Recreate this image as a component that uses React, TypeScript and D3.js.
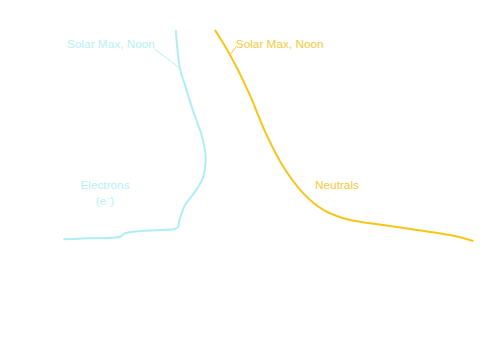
import React from "react";
import * as d3 from "d3";

// log10 density (schematic) vs altitude (km)
const electronLogN = [6.17, 6.36, 6.59, 6.97, 7.32, 7.47, 7.53, 7.42, 7.2, 6.82, 6.59, 6.44, 6.32, 6.29, 6.14, 5.45, 3.86, 3.64, 2.2, 1.06];
const electronAlt = [1000, 836, 764, 650, 557, 500, 443, 371, 328, 279, 250, 214, 178, 157, 147, 143, 129, 114, 107, 103];

const neutralLogN = [7.95, 8.64, 9.47, 10.32, 11.06, 11.97, 12.88, 13.79, 14.55, 15.6, 17.12, 18.64, 19.7];
const neutralAlt = [1000, 893, 736, 546, 414, 300, 229, 193, 178, 164, 143, 121, 96];

const labels = [
  { text: "Solar Max, Noon", logN: 1.23, alt: 923, anchor: "start", color: "#b6eff5", leaderFrom: [5.2, 919], leaderTo: [6.36, 836] },
  { text: "Solar Max, Noon", logN: 8.9, alt: 923, anchor: "start", color: "#f5c93a", leaderFrom: [8.91, 928], leaderTo: [8.64, 893] },
];

const electronLabel = ["Electrons", "(e", ")"];
const neutralLabel = "Neutrals";

const W = 500;
const H = 350;

export default function App() {
  const x = d3.scaleLinear().domain([0, 20]).range([40, 480]);
  const y = d3.scaleLinear().domain([100, 1000]).range([240, 30]);

  const line = d3
    .line<[number, number]>()
    .x((d) => x(d[0]))
    .y((d) => y(d[1]))
    .curve(d3.curveCatmullRom.alpha(0.5));

  const ePts = electronLogN.map((v, i) => [v, electronAlt[i]] as [number, number]);
  const nPts = neutralLogN.map((v, i) => [v, neutralAlt[i]] as [number, number]);

  const font = "Liberation Sans, Arial, Helvetica, sans-serif";
  const fs = 11.8;

  return (
    <svg
      width={W}
      height={H}
      style={{ position: "absolute", left: 0, top: 0, display: "block", background: "#ffffff" }}
    >
      <path d={line(ePts) || ""} fill="none" stroke="#aeeef4" strokeWidth={2} />
      <path d={line(nPts) || ""} fill="none" stroke="#f5c518" strokeWidth={2} />

      {labels.map((l, i) => (
        <g key={i}>
          <line
            x1={x(l.leaderFrom[0])}
            y1={y(l.leaderFrom[1])}
            x2={x(l.leaderTo[0])}
            y2={y(l.leaderTo[1])}
            stroke={l.color}
            strokeWidth={1}
          />
          <text
            x={x(l.logN)}
            y={y(l.alt)}
            fill={l.color}
            fontFamily={font}
            fontSize={fs}
            textAnchor={l.anchor as any}
          >
            {l.text}
          </text>
        </g>
      ))}

      <text x={105} y={189} fill="#b6eff5" fontFamily={font} fontSize={fs} textAnchor="middle">
        {electronLabel[0]}
      </text>
      <text x={105} y={205} fill="#b6eff5" fontFamily={font} fontSize={fs} textAnchor="middle">
        {electronLabel[1]}
        <tspan fontSize={7} dy={-4}>−</tspan>
        <tspan dy={4}>{electronLabel[2]}</tspan>
      </text>

      <text x={315} y={189} fill="#f5c93a" fontFamily={font} fontSize={fs}>
        {neutralLabel}
      </text>
    </svg>
  );
}
